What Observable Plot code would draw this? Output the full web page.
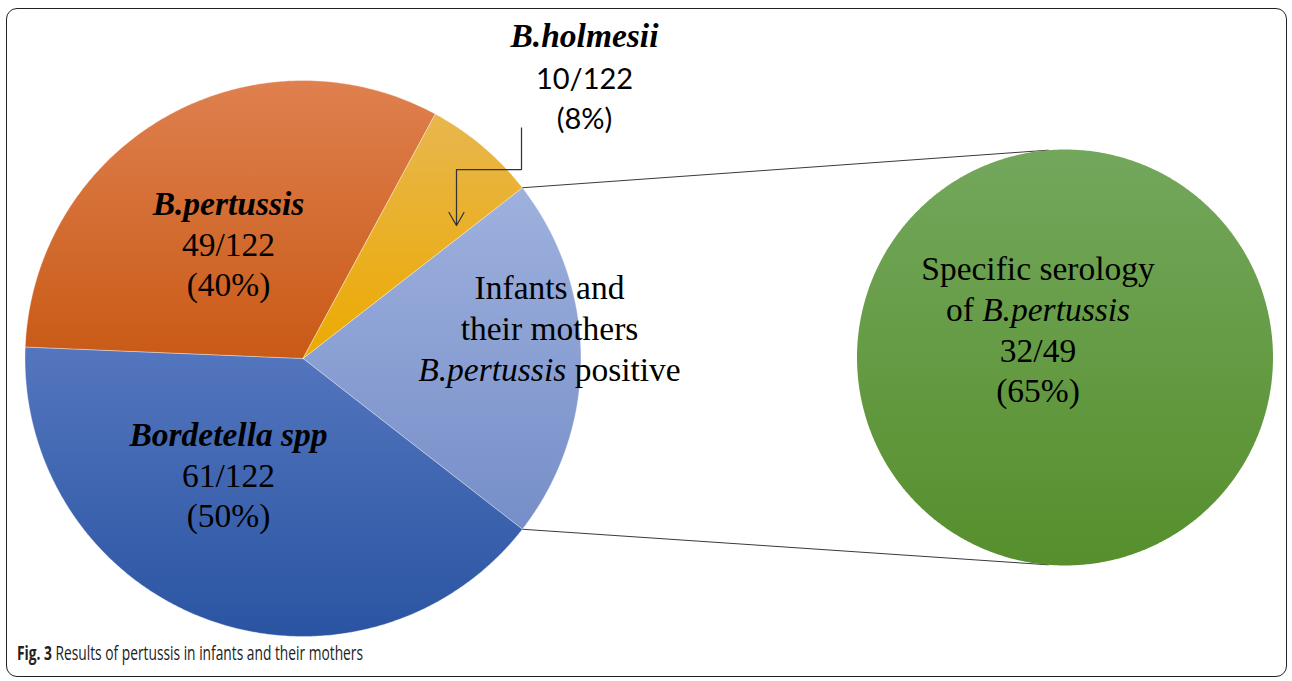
<!DOCTYPE html>
<html>
<head>
<meta charset="utf-8">
<script src="https://cdn.jsdelivr.net/npm/d3@7"></script>
<script src="https://cdn.jsdelivr.net/npm/@observablehq/plot@0.6"></script>
<style>
  html, body { margin: 0; padding: 0; background: #fff; }
  #frame { position: absolute; left: 6px; top: 8px; width: 1281px; height: 669px; border: 1.6px solid #222; border-radius: 11px; box-sizing: border-box; }
  #chart { position: absolute; left: 0; top: 0; }
  #caption { position: absolute; left: 17px; top: 639px; font-family: "Open Sans", sans-serif; font-size: 20px; color: #222; white-space: nowrap; transform-origin: 0 0; }
  #caption b { font-weight: 700; }
</style>
</head>
<body>
<div id="frame"></div>
<div id="chart"></div>
<div id="caption"><b>Fig. 3</b> Results of pertussis in infants and their mothers</div>
<script>
// ---------------- DATA ----------------
// primary pie (clockwise, split slice first)
const sliceNames = ["Infants and their mothers B.pertussis positive", "Bordetella spp", "B.pertussis", "B.holmesii"];
const sliceValues = [32, 61, 49, 10];
const sliceFractions = ["", "61/122", "49/122", "10/122"];
const slicePercents = ["", "(50%)", "(40%)", "(8%)"];
// secondary pie
const secondaryNames = ["Specific serology of B.pertussis"];
const secondaryValues = [32];
const secondaryFractions = ["32/49"];
const secondaryPercents = ["(65%)"];
// label text lines (*...* = italic run)
const splitLabelLines = ["Infants and", "their mothers", "*B.pertussis* positive"];
const secondaryLabelLines = ["Specific serology", "of *B.pertussis*"];
const captionText = "Fig. 3 Results of pertussis in infants and their mothers";

// ---------------- STYLE / LAYOUT ----------------
const W = 1292, H = 640;
const mainPie = {cx: 302.5, cy: 358, r: 278};
const subPie = {cx: 1064.5, cy: 357, r: 208};
const sliceGradients = [
  ["#9eb1de", "#768ec8"],
  ["#5476be", "#2a54a2"],
  ["#df804f", "#c95a16"],
  ["#e8b64e", "#ecaa00"]
];
const subGradient = ["#73a75c", "#568f2c"];
const serif = "Liberation Serif, Times New Roman, serif";
const sans = "Lato, Open Sans, sans-serif";
const FS = 33.5;
// label anchors: centre x and baselines of each line
const labelLayout = [
  {x: 549, ys: [298, 339, 380]},
  {x: 228, ys: [445, 486, 526]},
  {x: 228, ys: [214, 255, 295]},
  {x: 584, ys: [46, 88, 128]}
];
const subLabelLayout = {x: 1037.5, ys: [279, 320, 361, 401]};
const connectorAngle = 4.5 * Math.PI / 180;

// ---------------- GEOMETRY FROM DATA ----------------
const total = d3.sum(sliceValues);
const splitSpan = sliceValues[0] / total * 2 * Math.PI;
const start = Math.PI / 2 - splitSpan / 2;   // split slice centred at 3 o'clock
const arcs = d3.pie().sort(null).startAngle(start).endAngle(start + 2 * Math.PI)(sliceValues);
const subArcs = d3.pie().sort(null)(secondaryValues);

function polar(c, a, rr) { return {x: c.cx + rr * Math.sin(a), y: c.cy - rr * Math.cos(a)}; }
function slicePoints(c, a0, a1, full) {
  const pts = [];
  if (!full) pts.push({x: c.cx, y: c.cy});
  const n = Math.max(2, Math.ceil((a1 - a0) / (Math.PI / 360)));
  for (let i = 0; i <= n; i++) pts.push(polar(c, a0 + (a1 - a0) * i / n, c.r));
  if (!full) pts.push({x: c.cx, y: c.cy});
  return pts;
}

const sliceMarks = arcs.map((a, i) =>
  Plot.line(slicePoints(mainPie, a.startAngle, a.endAngle, false), {
    x: "x", y: "y", fill: `url(#grad${i})`, stroke: "#ffffff", strokeOpacity: 0.45, strokeWidth: 0.8, curve: "linear"
  })
);
const subMarks = subArcs.map((a, i) =>
  Plot.line(slicePoints(subPie, a.startAngle, a.endAngle, a.endAngle - a.startAngle >= 2 * Math.PI - 1e-9), {
    x: "x", y: "y", fill: `url(#subgrad${i})`, stroke: "none", curve: "linear"
  })
);

// connectors from split slice edges to secondary pie
const splitArc = arcs[0];
const p1 = polar(mainPie, splitArc.startAngle, mainPie.r);
const p2 = polar(mainPie, splitArc.endAngle, mainPie.r);
const q1 = polar(subPie, -connectorAngle, subPie.r);
const q2 = polar(subPie, Math.PI + connectorAngle, subPie.r);
const connectors = [
  {x1: p1.x, y1: p1.y, x2: q1.x, y2: q1.y},
  {x1: p2.x, y1: p2.y, x2: q2.x, y2: q2.y}
];

// leader arrow for B.holmesii label
const leader = [{x: 521, y: 127}, {x: 521, y: 169}, {x: 456, y: 169}];
const leaderHead = [{x1: 456, y1: 169, x2: 456, y2: 225}];

// ---------------- LABEL ROWS ----------------
const boldRows = [], serifRows = [], sansRows = [];
splitLabelLines.forEach((t, j) => serifRows.push({x: labelLayout[0].x, y: labelLayout[0].ys[j], t}));
for (let i = 1; i < sliceNames.length; i++) {
  const L = labelLayout[i];
  boldRows.push({x: L.x, y: L.ys[0], t: sliceNames[i]});
  const rows = i === 3 ? sansRows : serifRows;
  rows.push({x: L.x, y: L.ys[1], t: sliceFractions[i]});
  rows.push({x: L.x, y: L.ys[2], t: slicePercents[i]});
}
secondaryLabelLines.forEach((t, j) => serifRows.push({x: subLabelLayout.x, y: subLabelLayout.ys[j], t}));
serifRows.push({x: subLabelLayout.x, y: subLabelLayout.ys[2], t: secondaryFractions[0]});
serifRows.push({x: subLabelLayout.x, y: subLabelLayout.ys[3], t: secondaryPercents[0]});

const chart = Plot.plot({
  width: W, height: H,
  margin: 0,
  x: {type: "linear", domain: [0, W], range: [0, W], axis: null},
  y: {type: "linear", domain: [0, H], range: [0, H], axis: null},
  style: {background: "transparent", overflow: "visible"},
  marks: [
    ...sliceMarks,
    Plot.link(connectors, {x1: "x1", y1: "y1", x2: "x2", y2: "y2", stroke: "#3a3a3a", strokeWidth: 1}),
    ...subMarks,
    Plot.line(leader, {x: "x", y: "y", stroke: "#333", strokeWidth: 1.25, strokeLinecap: "butt", strokeLinejoin: "miter"}),
    Plot.arrow(leaderHead, {x1: "x1", y1: "y1", x2: "x2", y2: "y2", stroke: "#333", strokeWidth: 1.25, headLength: 18, headAngle: 60}),
    Plot.text(boldRows, {x: "x", y: "y", text: "t", fontFamily: serif, fontSize: FS, fontWeight: "bold", fontStyle: "italic", fill: "#000", textAnchor: "middle", lineAnchor: "bottom"}),
    Plot.text(serifRows, {x: "x", y: "y", text: "t", fontFamily: serif, fontSize: FS, fill: "#000", textAnchor: "middle", lineAnchor: "bottom"}),
    Plot.text(sansRows, {x: "x", y: "y", text: "t", fontFamily: sans, fontSize: 29, fill: "#000", textAnchor: "middle", lineAnchor: "bottom"})
  ]
});

// gradients
const defs = d3.select(chart).insert("defs", ":first-child");
function addGrad(id, c) {
  const g = defs.append("linearGradient").attr("id", id).attr("x1", 0).attr("y1", 0).attr("x2", 0).attr("y2", 1);
  g.append("stop").attr("offset", 0).attr("stop-color", c[0]);
  g.append("stop").attr("offset", 1).attr("stop-color", c[1]);
}
sliceGradients.forEach((c, i) => addGrad(`grad${i}`, c));
addGrad("subgrad0", subGradient);

// italic runs
d3.select(chart).selectAll("text").each(function () {
  const s = this.textContent;
  if (!s.includes("*")) return;
  const parts = s.split(/\*([^*]+)\*/);
  this.textContent = "";
  parts.forEach((p, k) => {
    if (!p) return;
    const ts = d3.select(this).append("tspan").text(p);
    if (k % 2 === 1) ts.attr("font-style", "italic");
  });
});

document.getElementById("chart").appendChild(chart);

// caption fit
const cap = document.getElementById("caption");
const w = cap.getBoundingClientRect().width;
cap.style.transform = `scaleX(${346 / w})`;
</script>
</body>
</html>
